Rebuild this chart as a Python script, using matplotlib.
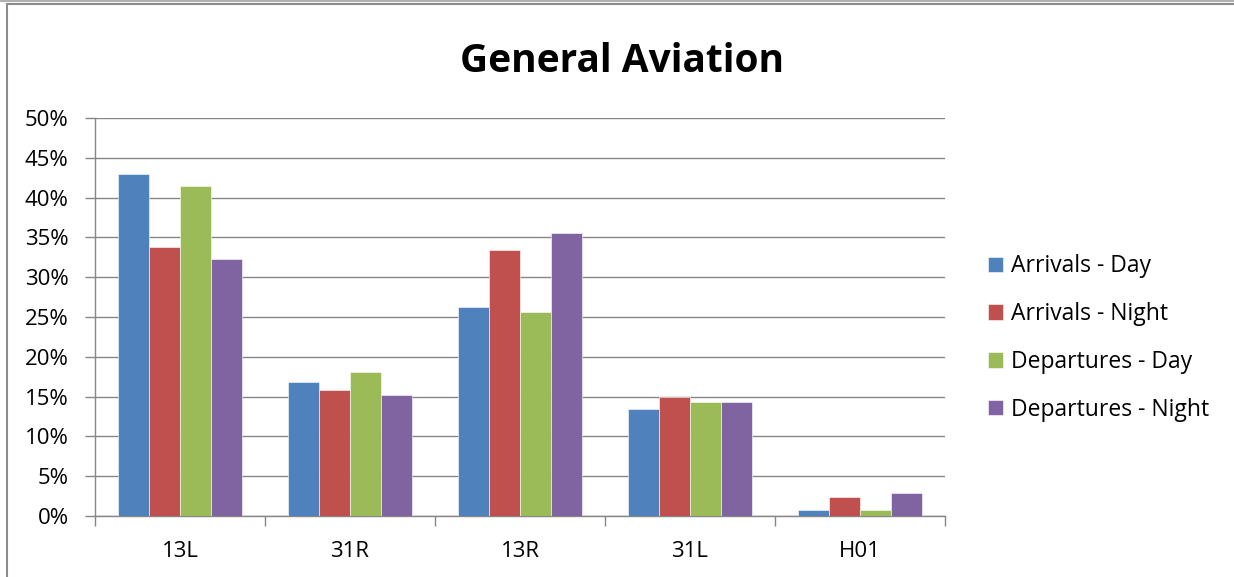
import numpy as np
import matplotlib
matplotlib.use("Agg")
import matplotlib.pyplot as plt
from matplotlib.patches import Rectangle
from matplotlib.ticker import FuncFormatter, FixedLocator

# --- data ---
runways = ["13L", "31R", "13R", "31L", "H01"]
arrivals_day = [43.0, 16.8, 26.3, 13.4, 0.7]
arrivals_night = [33.8, 15.8, 33.4, 14.9, 2.4]
departures_day = [41.5, 18.1, 25.6, 14.3, 0.7]
departures_night = [32.3, 15.2, 35.6, 14.3, 2.9]

series_names = ["Arrivals - Day", "Arrivals - Night", "Departures - Day", "Departures - Night"]
series_vals = [arrivals_day, arrivals_night, departures_day, departures_night]
colors = ["#4F81BD", "#C0504D", "#9BBB59", "#8064A2"]

plt.rcParams["font.family"] = ["Open Sans", "DejaVu Sans"]

fig = plt.figure(figsize=(12.34, 5.77), dpi=100)
ax = fig.add_axes([95 / 1234, 1 - 516 / 577, 850 / 1234, 398 / 577])

# outer chart frame (left + top edges visible)
fig.patches.append(Rectangle((7 / 1234, -0.1), 1.2, (1 - 4 / 577) + 0.1,
                             transform=fig.transFigure, fill=False,
                             edgecolor="#8c8c8c", linewidth=1.5))
fig.lines.append(plt.Line2D([0, 1], [1 - 1 / 577, 1 - 1 / 577], transform=fig.transFigure,
                            color="#b0b0b0", linewidth=1.5))

n = len(series_names)
gap = 1.5
bw = 1 / (n + gap)
x = np.arange(len(runways))
for i, (name, vals, c) in enumerate(zip(series_names, series_vals, colors)):
    offs = (i - (n - 1) / 2) * bw
    ax.bar(x + offs, vals, width=bw, color=c, label=name, edgecolor="white",
           linewidth=0.4, zorder=3)

ax.set_xlim(-0.5, len(runways) - 0.5)
ax.set_ylim(0, 50)
ax.set_yticks(np.arange(0, 51, 5))
ax.yaxis.set_major_formatter(FuncFormatter(lambda v, p: f"{v:.0f}%"))
ax.grid(axis="y", color="#868686", linewidth=1, zorder=0)
ax.set_axisbelow(True)

ax.set_xticks(x)
ax.set_xticklabels(runways)
ax.xaxis.set_minor_locator(FixedLocator(np.arange(-0.5, len(runways), 1)))
ax.tick_params(axis="x", which="major", length=0, labelsize=16, pad=18)
ax.tick_params(axis="x", which="minor", length=7, color="#868686", width=1, direction="out")
ax.tick_params(axis="y", length=7, color="#868686", width=1, labelsize=16, pad=12)

for s in ["top", "right"]:
    ax.spines[s].set_visible(False)
for s in ["left", "bottom"]:
    ax.spines[s].set_color("#868686")
    ax.spines[s].set_linewidth(1)

fig.text(622 / 1234, 1 - 62 / 577, "General Aviation", ha="center", va="center",
         fontsize=28, fontweight="bold")

ax.legend(loc="center left", bbox_to_anchor=(988 / 1234, 1 - 338 / 577),
          bbox_transform=fig.transFigure, frameon=False, fontsize=16.5,
          handlelength=0.65, handleheight=0.65, handletextpad=0.35,
          labelspacing=1.04, borderaxespad=0, borderpad=0)

fig.savefig("out.png", dpi=100)
